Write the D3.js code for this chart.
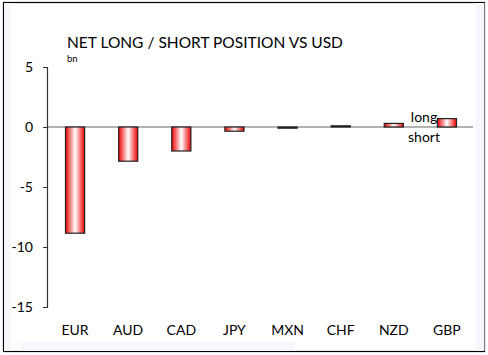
<!DOCTYPE html>
<html><head><meta charset="utf-8">
<script src="https://cdn.jsdelivr.net/npm/d3@7"></script>
<style>body{margin:0;background:#fff;} svg{display:block;}</style>
</head><body>
<svg id="c" width="488" height="355"></svg>
<script>
const categories = ["EUR","AUD","CAD","JPY","MXN","CHF","NZD","GBP"];
const values = [-8.85,-2.85,-2.0,-0.35,-0.1,0.1,0.3,0.7];
const yTicks = [5,0,-5,-10,-15];
const title = "NET LONG / SHORT POSITION VS USD";
const unit = "bn";

const svg = d3.select("#c");
const font = "Lato, 'Open Sans', sans-serif";

// background strips and frame
svg.append("rect").attr("x",3.5).attr("y",2.5).attr("width",481).attr("height",349).attr("fill","#fff").attr("stroke","#000").attr("stroke-width",1.2);
svg.append("rect").attr("x",4).attr("y",3).attr("width",7).attr("height",348).attr("fill","#f6f7fd");
svg.append("rect").attr("x",476).attr("y",3).attr("width",8.5).attr("height",348).attr("fill","#f6f7fd");
svg.append("rect").attr("x",21).attr("y",342).attr("width",274).attr("height",9).attr("fill","#f6f7fd");

const y = d3.scaleLinear().domain([-15,5]).range([307,67]);
const x = d3.scaleBand().domain(categories).range([48.5,473.5]).paddingInner(0.64).paddingOuter(0.32);

const defs = svg.append("defs");
const g = defs.append("linearGradient").attr("id","bg").attr("x1","0").attr("x2","1").attr("y1","0").attr("y2","0");
g.append("stop").attr("offset","0").attr("stop-color","#ee0000");
g.append("stop").attr("offset","0.5").attr("stop-color","#ffffff");
g.append("stop").attr("offset","1").attr("stop-color","#ee0000");

// zero line
svg.append("line").attr("x1",47).attr("x2",473).attr("y1",y(0)).attr("y2",y(0)).attr("stroke","#999").attr("stroke-width",1.5);

// bars
svg.selectAll("rect.bar").data(values).join("rect").attr("class","bar")
  .attr("x",(d,i)=>x(categories[i]))
  .attr("width",x.bandwidth())
  .attr("y",d=>y(Math.max(0,d)))
  .attr("height",d=>Math.max(1,Math.abs(y(d)-y(0))))
  .attr("fill","url(#bg)").attr("stroke","#222").attr("stroke-width",1.2);

// y axis
const ax = svg.append("g").attr("transform","translate(47,0)")
  .call(d3.axisLeft(y).tickValues(yTicks).tickSize(4).tickPadding(10).tickFormat(d=>String(d)));
ax.select(".domain").attr("stroke","#333").attr("stroke-width",1.2);
ax.selectAll(".tick line").attr("stroke","#333");
ax.selectAll(".tick text").attr("font-family",font).attr("font-size",14).attr("fill","#000");

// x labels
svg.selectAll("text.cat").data(categories).join("text").attr("class","cat")
  .attr("x",d=>x(d)+x.bandwidth()/2).attr("y",335).attr("text-anchor","middle")
  .attr("font-family",font).attr("font-size",14).text(d=>d);

svg.append("text").attr("x",67).attr("y",48).attr("font-family",font).attr("font-size",15.5).text(title);
svg.append("text").attr("x",67).attr("y",62).attr("font-family",font).attr("font-size",9.5).text(unit);

svg.append("text").attr("x",424).attr("y",122).attr("text-anchor","middle").attr("font-family",font).attr("font-size",14).text("long");
svg.append("text").attr("x",424).attr("y",142).attr("text-anchor","middle").attr("font-family",font).attr("font-size",14).text("short");
</script>
</body></html>
